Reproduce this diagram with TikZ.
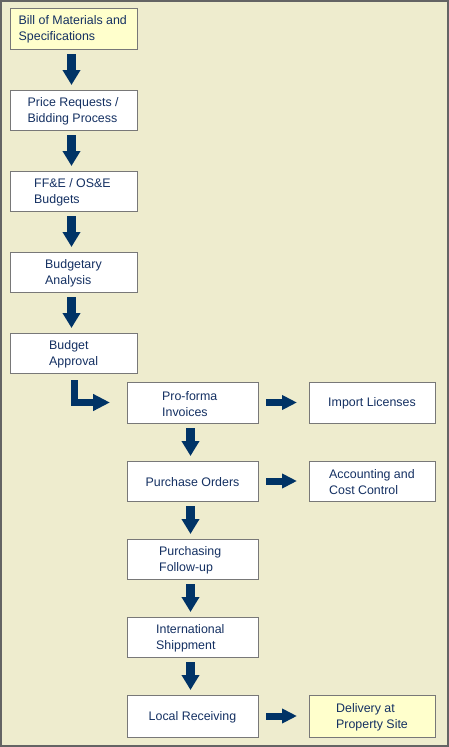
\documentclass[tikz,border=0pt]{standalone}
\usepackage{fontspec}
\setmainfont{Liberation Sans}
\usetikzlibrary{arrows.meta}
\definecolor{bgc}{RGB}{238,236,206}
\definecolor{framec}{RGB}{100,100,100}
\definecolor{boxline}{RGB}{120,120,120}
\definecolor{hiyel}{RGB}{255,255,204}
\definecolor{txtc}{RGB}{20,48,98}
\definecolor{arrc}{RGB}{0,51,102}
\tikzset{
  box/.style={draw=boxline, line width=1pt, fill=white, inner sep=0pt, outer sep=0pt, rectangle},
  hibox/.style={box, fill=hiyel},
  leftbox/.style={minimum width=127pt},
  midbox/.style={minimum width=131pt},
  rightbox/.style={minimum width=126pt},
  txt/.style={text=txtc, font=\fontsize{12.4pt}{16pt}\selectfont, align=left, inner sep=0pt},
  darr/.style={draw=arrc, line width=9pt, -{Triangle[width=17pt,length=15pt]}, shorten <=5pt, shorten >=5pt},
  harr/.style={draw=arrc, line width=7pt, -{Triangle[width=14pt,length=15pt]}, shorten <=8pt, shorten >=12pt},
  barr/.style={draw=arrc, line width=7pt, line join=miter, -{Triangle[width=16pt,length=17pt]}, shorten <=7pt, shorten >=17pt}
}
\begin{document}
\begin{tikzpicture}[x=1pt,y=-1pt]
\fill[bgc] (0,0) rectangle (449,747);
\draw[framec, line width=2pt] (1,1) rectangle (448,746);
\useasboundingbox (0,0) rectangle (449,747);

% left column
\node[hibox, leftbox, minimum height=41pt] (b1) at (73.5,28.5) {};
\node[box, leftbox, minimum height=40pt] (b2) at (73.5,110) {};
\node[box, leftbox, minimum height=40pt] (b3) at (73.5,191) {};
\node[box, leftbox, minimum height=40pt] (b4) at (73.5,272) {};
\node[box, leftbox, minimum height=40pt] (b5) at (73.5,353) {};

\node[txt, anchor=west] (t1) at ([xshift=8.5pt,yshift=-1pt]b1.west) {Bill of Materials and\\Specifications};
\node[txt, anchor=west] (t2) at ([xshift=17.5pt,yshift=-1.5pt]b2.west) {Price Requests /\\Bidding Process};
\node[txt, anchor=west] (t3) at ([xshift=24pt,yshift=-1.5pt]b3.west) {FF\&E / OS\&E\\Budgets};
\node[txt, anchor=west] (t4) at ([xshift=35pt,yshift=-1.5pt]b4.west) {Budgetary\\Analysis};
\node[txt, anchor=west] (t5) at ([xshift=39pt,yshift=-1.5pt]b5.west) {Budget\\Approval};

% middle column
\node[box, midbox, minimum height=41pt] (p1) at (192.5,402.5) {};
\node[box, midbox, minimum height=40pt] (p2) at (192.5,481) {};
\node[box, midbox, minimum height=40pt] (p3) at (192.5,559) {};
\node[box, midbox, minimum height=40pt] (p4) at (192.5,637) {};
\node[box, midbox, minimum height=42pt] (p5) at (192.5,716) {};

\node[txt, anchor=west] (s1) at ([xshift=35pt,yshift=-1.5pt]p1.west) {Pro-forma\\Invoices};
\node[txt] (s2) at ([yshift=-1pt]p2.center) {Purchase Orders};
\node[txt, anchor=west] (s3) at ([xshift=32pt,yshift=-1.5pt]p3.west) {Purchasing\\Follow-up};
\node[txt, anchor=west] (s4) at ([xshift=29pt,yshift=-1.5pt]p4.west) {International\\Shippment};
\node[txt] (s5) at ([yshift=-1pt]p5.center) {Local Receiving};

% right column
\node[box, rightbox, minimum height=41pt] (r1) at (372,402.5) {};
\node[box, rightbox, minimum height=40pt] (r2) at (372,481) {};
\node[hibox, rightbox, minimum height=42pt] (r3) at (372,716) {};

\node[txt] (u1) at ([yshift=-1pt]r1.center) {Import Licenses};
\node[txt, anchor=west] (u2) at ([xshift=20pt,yshift=-1.5pt]r2.west) {Accounting and\\Cost Control};
\node[txt, anchor=west] (u3) at ([xshift=27pt,yshift=-1.5pt]r3.west) {Delivery at\\Property Site};

% down arrows, left column
\draw[darr] ([xshift=-2pt]b1.south) -- ([xshift=-2pt]b2.north);
\draw[darr] ([xshift=-2pt]b2.south) -- ([xshift=-2pt]b3.north);
\draw[darr] ([xshift=-2pt]b3.south) -- ([xshift=-2pt]b4.north);
\draw[darr] ([xshift=-2pt]b4.south) -- ([xshift=-2pt]b5.north);

% bent arrow
\draw[barr] ([xshift=1.2pt]b5.south) |- (p1.west);

% down arrows, middle column
\draw[darr] ([xshift=-2pt]p1.south) -- ([xshift=-2pt]p2.north);
\draw[darr] ([xshift=-2pt]p2.south) -- ([xshift=-2pt]p3.north);
\draw[darr] ([xshift=-2pt]p3.south) -- ([xshift=-2pt]p4.north);
\draw[darr] ([xshift=-2pt]p4.south) -- ([xshift=-2pt]p5.north);

% horizontal arrows
\draw[harr] (p1.east) -- (r1.west);
\draw[harr] (p2.east) -- (r2.west);
\draw[harr] (p5.east) -- (r3.west);
\end{tikzpicture}
\end{document}
